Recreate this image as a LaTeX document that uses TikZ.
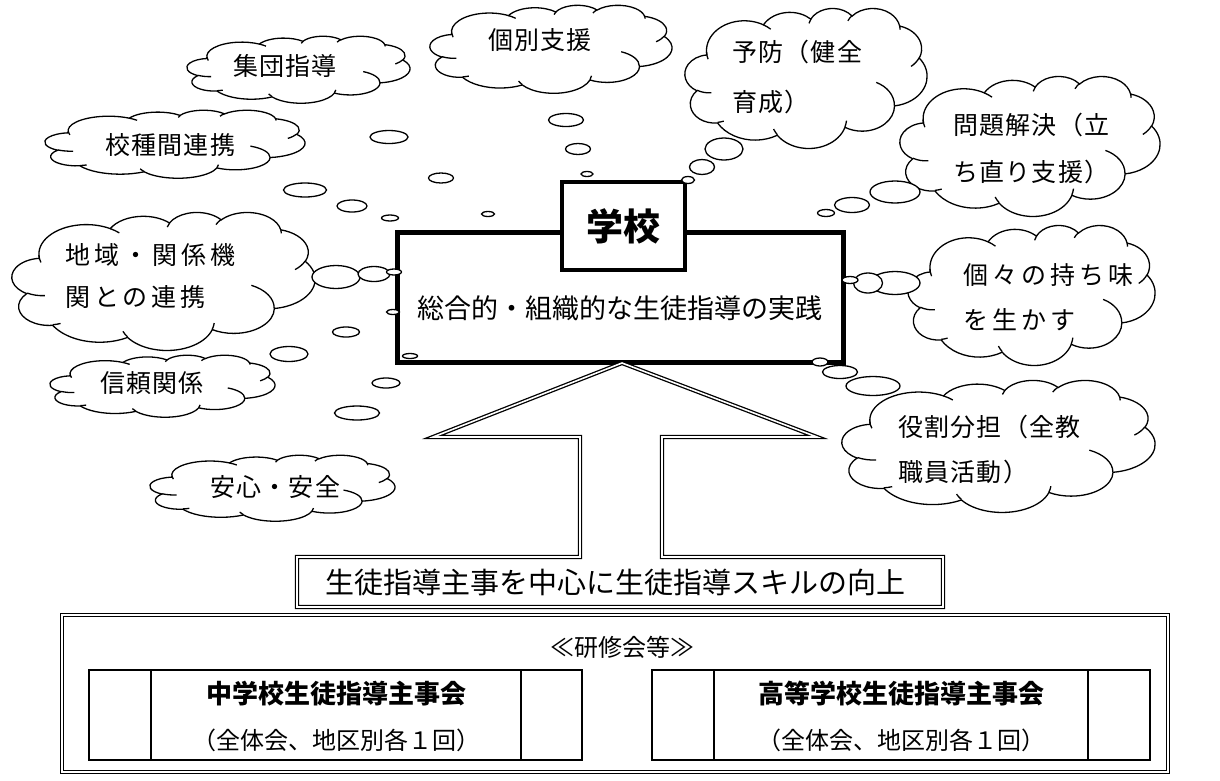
\documentclass[tikz,border=0pt]{standalone}
\usepackage{fontspec}
\setmainfont{Noto Sans CJK JP}
\newfontfamily\jpsp[LetterSpace=5]{Noto Sans CJK JP}
\newfontfamily\jpwide[LetterSpace=16]{Noto Sans CJK JP}
\newfontfamily\jpn{Noto Sans CJK JP}
\usetikzlibrary{shapes.geometric}
\tikzset{
  ct/.style={font=\jpsp\fontsize{25}{28}\selectfont, inner sep=0pt, anchor=west},
  ctw/.style={font=\jpwide\fontsize{25}{28}\selectfont, inner sep=0pt, anchor=west},
  ctc/.style={font=\jpsp\fontsize{25}{28}\selectfont, inner sep=0pt},
  bub/.style={ellipse, draw, line width=1.3pt, fill=white, inner sep=0pt},
  dbl/.style={draw, double, double distance=1.6pt, line width=1.3pt},
  cloudline/.style={line width=1.3pt},
  tline/.style={line width=1.2pt},
}
% Word-style cloud: name, left, top, width, height (px)
\newcommand\wcloud[5]{%
 \pgfmathsetmacro\cwx{#4/432}\pgfmathsetmacro\cwy{#5/432}%
 \begin{scope}[shift={(#2pt,-#3pt)}, x=\cwx pt, y=-\cwy pt, cloudline]
  \coordinate (#1) at (216,216);
  \filldraw[fill=white] (39.00,143.70)
   arc[start angle=-187.746, end angle=-59.636, x radius=67.53, y radius=91.90]
   arc[start angle=-152.02, end angle=-45.455, x radius=53.33, y radius=72.67]
   arc[start angle=-153.49, end angle=-37.32, x radius=43.65, y radius=59.45]
   arc[start angle=-139.73, end angle=-10.21, x radius=48.57, y radius=65.95]
   arc[start angle=-74.77, end angle=23.21, x radius=53.33, y radius=72.73]
   arc[start angle=-37.52, end angle=81.86, x radius=67.75, y radius=92.20]
   arc[start angle=0.46, end angle=121.98, x radius=57.85, y radius=78.67]
   arc[start angle=16.85, end angle=146.25, x radius=67.52, y radius=92.15]
   arc[start angle=58.99, end angle=150.20, x radius=77.20, y radius=105.43]
   arc[start angle=83.31, end angle=223.11, x radius=43.60, y radius=59.18]
   arc[start angle=120.36, end angle=264.11, x radius=43.45, y radius=59.45]
   -- cycle;
  \draw (46.93,261.77) arc[start angle=85.55, end angle=120.36, x radius=43.45, y radius=59.45]
   (69.28,348.99) arc[start angle=68.23, end angle=83.31, x radius=43.60, y radius=59.18]
   (164.78,390.90) arc[start angle=146.25, end angle=158.47, x radius=67.52, y radius=92.15]
   (288.27,347.51) arc[start angle=4.74, end angle=16.85, x radius=67.52, y radius=92.15]
   (341.29,229.54) arc[start angle=-64.03, end angle=0.46, x radius=57.85, y radius=78.67]
   (417.98,153.54) arc[start angle=23.21, end angle=49.64, x radius=53.33, y radius=72.73]
   (383.24,54.26) arc[start angle=-10.21, end angle=0.82, x radius=48.57, y radius=65.95]
   (290.78,39.52) arc[start angle=-156.29, end angle=-139.72, x radius=48.57, y radius=65.95]
   (221.41,47.20) arc[start angle=-167.73, end angle=-153.49, x radius=43.65, y radius=59.45]
   (140.00,51.92) arc[start angle=-59.64, end angle=-45.74, x radius=67.53, y radius=91.90]
   (41.27,157.89) arc[start angle=162.38, end angle=176.68, x radius=67.53, y radius=91.90];
 \end{scope}}
\begin{document}
\begin{tikzpicture}[x=1pt,y=-1pt]
\useasboundingbox (0,0) rectangle (1220,780);
% clouds
\wcloud{c1}{187}{36}{223}{67}
\wcloud{c2}{430}{5}{242}{88}
\wcloud{c3}{685}{8}{242}{140}
\wcloud{c4}{900}{76}{260}{140}
\wcloud{c5}{908}{225}{247}{140}
\wcloud{c6}{842}{380}{313}{132}
\wcloud{c7}{150}{455}{245}{66}
\wcloud{c8}{50}{355}{225}{62}
\wcloud{c9}{12}{212}{303}{138}
\wcloud{c10}{45}{110}{260}{68}
% cloud texts
\node[ctc] (t1) at (285,66) {集団指導};
\node[ctc] (t2) at (540,40) {個別支援};
\node[ct] (t3a) at (732,52) {予防（健全};
\node[ct] (t3b) at (732,102) {育成）};
\node[ct] (t4a) at (953,125) {問題解決（立};
\node[ct] (t4b) at (953,172) {ち直り支援）};
\node[ctw] (t5a) at (963,275) {個々の持ち味};
\node[ctw] (t5b) at (963,320) {を生かす};
\node[ct] (t6a) at (898,427) {役割分担（全教};
\node[ct] (t6b) at (898,472) {職員活動）};
\node[ctc] (t7) at (275,487) {安心・安全};
\node[ctc] (t8) at (152,383) {信頼関係};
\node[ctw] (t9a) at (65,255) {地域・関係機};
\node[ctw] (t9b) at (65,297) {関との連携};
\node[ctc] (t10) at (170,145) {校種間連携};
% central box
\node[draw, line width=5pt, minimum width=446pt, minimum height=130pt, inner sep=0pt] (main) at (620,297) {};
\node[font=\jpn\fontsize{27}{30}\selectfont, inner sep=0pt] (mtext) at (620,308) {総合的・組織的な生徒指導の実践};
\node[draw, line width=4.5pt, fill=white, minimum width=123pt, minimum height=88pt, inner sep=0pt, font=\jpn\bfseries\fontsize{37}{40}\selectfont] (school) at (623.5,226) {学校};
% arrow + box
\coordinate (b1) at (297,607);
\coordinate (b2) at (297,557);
\coordinate (s1) at (580,557);
\coordinate (s2) at (580,437);
\coordinate (h1) at (433,437);
\coordinate (tip) at (622,363);
\coordinate (h2) at (817,437);
\coordinate (s3) at (662,437);
\coordinate (s4) at (662,557);
\coordinate (b3) at (943,557);
\coordinate (b4) at (943,607);
\path[dbl, fill=white] (b1) -- (b2) -- (s1) -- (s2) -- (h1) -- (tip) -- (h2) -- (s3) -- (s4) -- (b3) -- (b4) -- cycle;
\node[font=\jpn\fontsize{29}{30}\selectfont, inner sep=0pt] (skill) at (615,582) {生徒指導主事を中心に生徒指導スキルの向上};
% bottom frame
\node[dbl, minimum width=1106pt, minimum height=157pt, inner sep=0pt] (frame) at (615,693.5) {};
\node[font=\jpn\fontsize{24}{28}\selectfont, inner sep=0pt] (kenshu) at (622,647) {≪研修会等≫};
% left table
\node[draw, tline, minimum width=493pt, minimum height=90pt, inner sep=0pt] (tabL) at (335.5,715) {};
\draw[tline] (151,670) -- (151,760) (521,670) -- (521,760);
\node[font=\jpn\bfseries\fontsize{26}{28}\selectfont, inner sep=0pt] (jh) at (336,694) {中学校生徒指導主事会};
\node[font=\jpn\fontsize{24}{28}\selectfont, inner sep=0pt] (jhs) at (336,740) {（全体会、地区別各１回）};
% right table
\node[draw, tline, minimum width=498pt, minimum height=90pt, inner sep=0pt] (tabR) at (901,715) {};
\draw[tline] (714,670) -- (714,760) (1088,670) -- (1088,760);
\node[font=\jpn\bfseries\fontsize{26}{28}\selectfont, inner sep=0pt] (hs) at (901,694) {高等学校生徒指導主事会};
\node[font=\jpn\fontsize{24}{28}\selectfont, inner sep=0pt] (hss) at (901,740) {（全体会、地区別各１回）};
% bubbles
\node[bub, minimum width=38pt, minimum height=13pt] (e11) at (389,137) {};
\node[bub, minimum width=25pt, minimum height=10pt] (e12) at (441,178) {};
\node[bub, minimum width=13pt, minimum height=5pt] (e13) at (488,214) {};
\node[bub, minimum width=43pt, minimum height=14pt] (e101) at (305,190) {};
\node[bub, minimum width=30pt, minimum height=12pt] (e102) at (352,206) {};
\node[bub, minimum width=17pt, minimum height=6pt] (e103) at (390,218) {};
\node[bub, minimum width=35pt, minimum height=13pt] (e21) at (566,120) {};
\node[bub, minimum width=25pt, minimum height=11pt] (e22) at (578,149) {};
\node[bub, minimum width=12pt, minimum height=5pt] (e23) at (587,174) {};
\node[bub, minimum width=38pt, minimum height=22pt] (e31) at (724,149) {};
\node[bub, minimum width=25pt, minimum height=15pt] (e32) at (702,167) {};
\node[bub, minimum width=13pt, minimum height=7pt] (e33) at (688,180) {};
\node[bub, minimum width=50pt, minimum height=22pt] (e41) at (895,192) {};
\node[bub, minimum width=35pt, minimum height=15pt] (e42) at (852,205) {};
\node[bub, minimum width=17pt, minimum height=7pt] (e43) at (826,213) {};
\node[bub, minimum width=50pt, minimum height=23pt] (e51) at (895,283) {};
\node[bub, minimum width=29pt, minimum height=20pt] (e52) at (868,283) {};
\node[bub, minimum width=16pt, minimum height=7pt] (e53) at (850,280) {};
\node[bub, minimum width=54pt, minimum height=19pt] (e61) at (873,386) {};
\node[bub, minimum width=35pt, minimum height=13pt] (e62) at (840,372) {};
\node[bub, minimum width=16pt, minimum height=8pt] (e63) at (820,362) {};
\node[bub, minimum width=48pt, minimum height=23pt] (e91) at (336,277) {};
\node[bub, minimum width=32pt, minimum height=15pt] (e92) at (374,274) {};
\node[bub, minimum width=15pt, minimum height=6pt] (e93) at (394,272) {};
\node[bub, minimum width=38pt, minimum height=15pt] (e81) at (289,354) {};
\node[bub, minimum width=27pt, minimum height=10pt] (e82) at (346,332) {};
\node[bub, minimum width=13pt, minimum height=5pt] (e83) at (393,312) {};
\node[bub, minimum width=45pt, minimum height=14pt] (e71) at (357,413) {};
\node[bub, minimum width=28pt, minimum height=10pt] (e72) at (386,383) {};
\node[bub, minimum width=15pt, minimum height=5pt] (e73) at (410,356) {};
\end{tikzpicture}
\end{document}
